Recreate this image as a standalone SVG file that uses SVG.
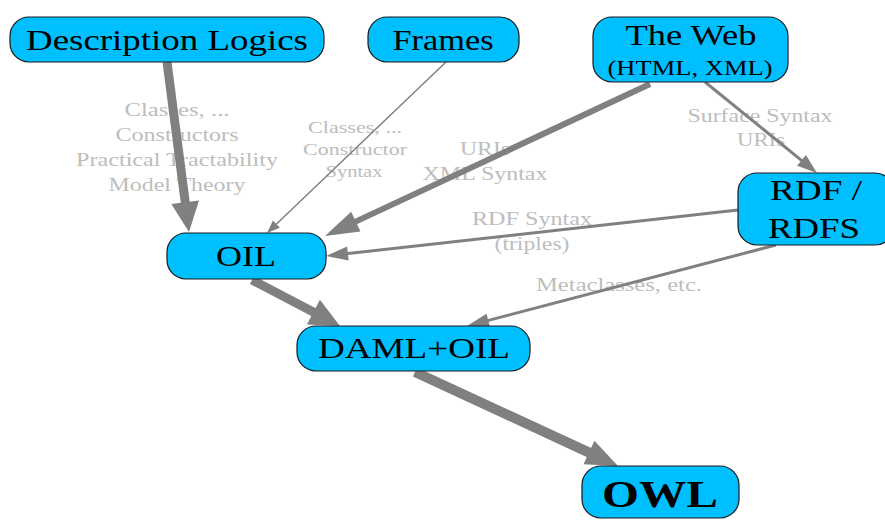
<svg xmlns="http://www.w3.org/2000/svg" width="885" height="520" viewBox="0 0 885 520">
  <style>
    .node rect { fill: #00bfff; stroke: #1a1a1a; stroke-width: 1.2; }
    .node text { font-family: "Liberation Serif", "Times New Roman", serif; fill: #000; text-anchor: middle; }
    .lbl { font-family: "Liberation Serif", "Times New Roman", serif; fill: #bdbdbd; text-anchor: middle; }
    .edge line { stroke: #808080; stroke-linecap: butt; }
    .edge polygon { fill: #808080; }
  </style>
  <rect width="885" height="520" fill="#fff"/>

  <!-- edge labels -->
  <g id="labels">
    <g class="lbl" font-size="19">
      <text x="177" y="116" textLength="105" lengthAdjust="spacingAndGlyphs">Classes, ...</text>
      <text x="177" y="141" textLength="123" lengthAdjust="spacingAndGlyphs">Constructors</text>
      <text x="177" y="166" textLength="202" lengthAdjust="spacingAndGlyphs">Practical Tractability</text>
      <text x="177" y="191" textLength="137" lengthAdjust="spacingAndGlyphs">Model Theory</text>
    </g>
    <g class="lbl" font-size="17">
      <text x="355" y="133" textLength="94" lengthAdjust="spacingAndGlyphs">Classes, ...</text>
      <text x="355" y="155" textLength="104" lengthAdjust="spacingAndGlyphs">Constructor</text>
      <text x="354" y="177" textLength="57" lengthAdjust="spacingAndGlyphs">Syntax</text>
    </g>
    <g class="lbl" font-size="19">
      <text x="485" y="155" textLength="50" lengthAdjust="spacingAndGlyphs">URIs</text>
      <text x="485" y="180" textLength="125" lengthAdjust="spacingAndGlyphs">XML Syntax</text>
      <text x="760" y="122" textLength="145" lengthAdjust="spacingAndGlyphs">Surface Syntax</text>
      <text x="761" y="146" textLength="48" lengthAdjust="spacingAndGlyphs">URIs</text>
      <text x="532" y="225" textLength="120" lengthAdjust="spacingAndGlyphs">RDF Syntax</text>
      <text x="532" y="250" textLength="75" lengthAdjust="spacingAndGlyphs">(triples)</text>
      <text x="619" y="291" textLength="166" lengthAdjust="spacingAndGlyphs">Metaclasses, etc.</text>
    </g>
  </g>

  <!-- connectors -->
  <g id="connectors" class="edge">
    <!-- Description Logics -> OIL -->
    <line x1="167" y1="62" x2="185.6" y2="205" stroke-width="9"/>
    <polygon points="189,232 171.3,204.05 199.0,200.45"/>
    <!-- Frames -> OIL -->
    <line x1="446" y1="62" x2="275.7" y2="224.7" stroke-width="1.5"/>
    <polygon points="267,233 272.95,220.40 279.85,227.64"/>
    <!-- The Web -> OIL -->
    <line x1="650" y1="84" x2="354" y2="222.4" stroke-width="6"/>
    <polygon points="325,236 351.14,211.64 360.46,231.56"/>
    <!-- The Web -> RDF / RDFS -->
    <line x1="705" y1="82" x2="803" y2="161.6" stroke-width="3"/>
    <polygon points="817,173 797.07,165.82 805.89,154.96"/>
    <!-- RDF / RDFS -> OIL -->
    <line x1="738" y1="210" x2="346" y2="253.8" stroke-width="3"/>
    <polygon points="326,256 347.08,246.60 348.64,260.52"/>
    <!-- RDF / RDFS -> DAML+OIL -->
    <line x1="776" y1="245" x2="486.5" y2="320.9" stroke-width="3"/>
    <polygon points="467,326 486.50,313.65 490.06,327.19"/>
    <!-- OIL -> DAML+OIL -->
    <line x1="252" y1="280" x2="315.2" y2="313" stroke-width="9"/>
    <polygon points="340,326 306.93,324.51 319.89,299.69"/>
    <!-- DAML+OIL -> OWL -->
    <line x1="415" y1="372" x2="590.8" y2="453.4" stroke-width="10"/>
    <polygon points="618,466 583.50,464.35 594.42,440.75"/>
  </g>

  <!-- nodes -->
  <g id="node-dl" class="node">
    <rect x="10" y="17" width="314" height="45" rx="19"/>
    <text x="167" y="50" font-size="30" textLength="282" lengthAdjust="spacingAndGlyphs">Description Logics</text>
  </g>
  <g id="node-frames" class="node">
    <rect x="368" y="17" width="151" height="45" rx="19"/>
    <text x="443" y="50" font-size="30" textLength="101" lengthAdjust="spacingAndGlyphs">Frames</text>
  </g>
  <g id="node-web" class="node">
    <rect x="593" y="17" width="195" height="65" rx="19"/>
    <text x="691" y="45" font-size="30" textLength="131" lengthAdjust="spacingAndGlyphs">The Web</text>
    <text x="690" y="75" font-size="22" textLength="165" lengthAdjust="spacingAndGlyphs">(HTML, XML)</text>
  </g>
  <g id="node-rdf" class="node">
    <rect x="738" y="173" width="156" height="72" rx="19"/>
    <text x="816" y="200" font-size="30" textLength="92" lengthAdjust="spacingAndGlyphs">RDF /</text>
    <text x="814" y="238" font-size="30" textLength="92" lengthAdjust="spacingAndGlyphs">RDFS</text>
  </g>
  <g id="node-oil" class="node">
    <rect x="167" y="233" width="159" height="46" rx="19"/>
    <text x="246" y="266" font-size="29" textLength="60" lengthAdjust="spacingAndGlyphs">OIL</text>
  </g>
  <g id="node-daml" class="node">
    <rect x="297" y="326" width="233" height="45" rx="19"/>
    <text x="414" y="358" font-size="29" textLength="192" lengthAdjust="spacingAndGlyphs">DAML+OIL</text>
  </g>
  <g id="node-owl" class="node">
    <rect x="582" y="466" width="157" height="52" rx="19"/>
    <text x="660" y="507" font-size="38" font-weight="bold" textLength="116" lengthAdjust="spacingAndGlyphs">OWL</text>
  </g>
</svg>
